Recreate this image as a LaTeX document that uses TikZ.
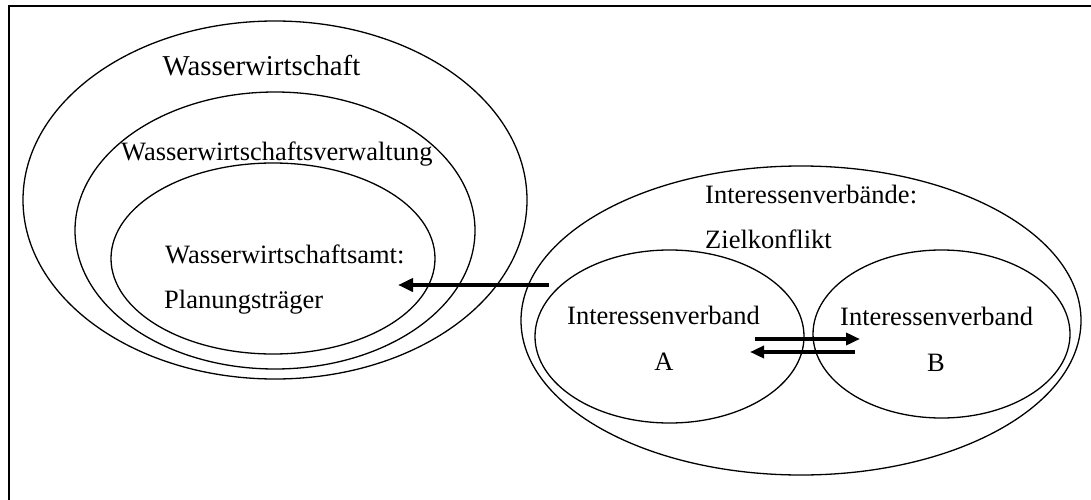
\documentclass[tikz,border=0pt]{standalone}
\usepackage{fontspec}
\setmainfont{Liberation Serif}
\usetikzlibrary{shapes.geometric,arrows.meta}
\begin{document}
\begin{tikzpicture}[x=1pt,y=-1pt,
  ring/.style={draw, ellipse, line width=1.3pt, inner sep=0pt},
  txt/.style={anchor=base west, inner sep=0pt, font=\fontsize{26.5}{30}\selectfont},
  letter/.style={anchor=base, inner sep=0pt, font=\fontsize{26.5}{30}\selectfont},
  flow/.style={line width=4pt, -{Triangle[length=15pt,width=13pt]}},
  swap/.style={line width=3.6pt, -{Triangle[length=14pt,width=12pt]}},
  frameline/.style={line width=2pt}]
\useasboundingbox (0,0) rectangle (1091,500);

% frame (top and left edges)
\coordinate (fTR) at (1091,6.5);
\coordinate (fTL) at (8.5,6.5);
\coordinate (fBL) at (8.5,500);
\draw[frameline] (fTR) -- (fTL) -- (fBL);

% nested sets on the left
\node[ring, minimum width=504pt, minimum height=358pt] (ww)  at (275,200) {};
\node[ring, minimum width=400pt, minimum height=277pt] (wwv) at (275,230.5) {};
\node[ring, minimum width=324pt, minimum height=191pt] (wwa) at (273,258.5) {};

% interest groups on the right
\node[ring, minimum width=560pt, minimum height=309pt] (iv)  at (801,320.5) {};
\node[ring, minimum width=269pt, minimum height=173pt] (ivA) at (669.5,336.5) {};
\node[ring, minimum width=257pt, minimum height=168pt] (ivB) at (941.5,334) {};

% labels
\node[txt, font=\fontsize{28.8}{32}\selectfont] (tWW) at (162.5,76) {Wasserwirtschaft};
\node[txt] (tWWV)  at (121,160.7) {Wasserwirtschaftsverwaltung};
\node[txt] (tWWA1) at (165,263) {Wasserwirtschaftsamt:};
\node[txt] (tWWA2) at (164,308) {Planungsträger};
\node[txt] (tIV1)  at (705,203) {Interessenverbände:};
\node[txt] (tIV2)  at (705,248) {Zielkonflikt};
\node[txt] (tA1)   at (567,324) {Interessenverband};
\node[letter] (tA2) at (664,370) {A};
\node[txt] (tB1)   at (840,325.7) {Interessenverband};
\node[letter] (tB2) at (936,371.7) {B};

% influence of the interest groups on the planning authority
\coordinate (m1) at (549,285);
\coordinate (m2) at (398,285);
\draw[flow] (m1) -- (m2);

% exchange between A and B
\coordinate (u1) at (755,339);
\coordinate (u2) at (860,339);
\draw[swap] (u1) -- (u2);
\coordinate (l1) at (855,352);
\coordinate (l2) at (750,352);
\draw[swap] (l1) -- (l2);
\end{tikzpicture}
\end{document}
